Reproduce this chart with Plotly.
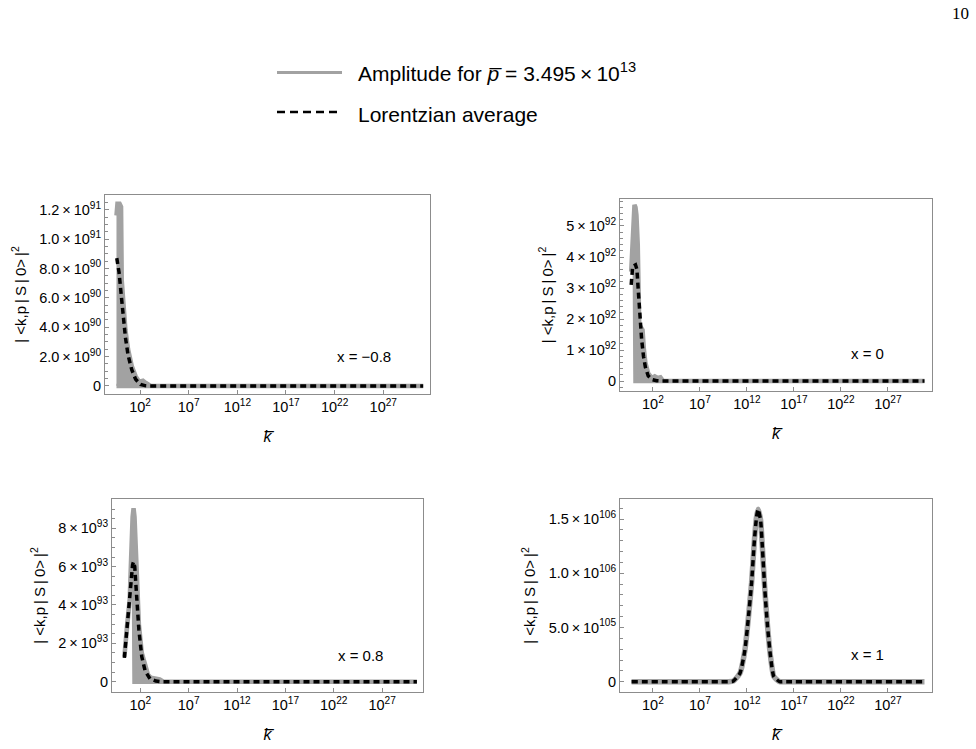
import plotly.graph_objects as go

# ---------------- data ----------------
panel_labels = ["x = \u22120.8", "x = 0", "x = 0.8", "x = 1"]

x_tick_vals = [1e2, 1e7, 1e12, 1e17, 1e22, 1e27]
x_tick_text = ["10<sup>2</sup>", "10<sup>7</sup>", "10<sup>12</sup>",
               "10<sup>17</sup>", "10<sup>22</sup>", "10<sup>27</sup>"]

# panel 1 : x = -0.8
lor1_logk = [-0.39, -0.15, 0.08, 0.30, 0.50, 0.77, 1.15, 1.55, 2.05, 2.5, 3.0, 31.1]
lor1_val = [8.7e90, 7.7e90, 6.1e90, 4.6e90, 3.3e90, 2.1e90, 1.1e90, 0.45e90, 0.1e90, 0.02e90, 0.0, 0.0]
amp1_logk = [-0.42, -0.32, -0.1, 0.05, 0.12, 0.3, 0.5, 0.77, 1.15, 1.55, 1.85, 2.05, 2.3, 2.6, 2.9, 3.1, 31.1]
amp1_hi = [11.6e90, 12.4e90, 12.4e90, 12.2e90, 7.2e90, 5.2e90, 3.8e90, 2.5e90, 1.35e90, 0.65e90,
           0.35e90, 0.3e90, 0.35e90, 0.2e90, 0.1e90, 0.0, 0.0]
amp1_lo = [0.0] * 17
y1_ticks = [0, 2e90, 4e90, 6e90, 8e90, 1e91, 1.2e91]
y1_text = ["0", "2.0\u2009×\u200910<sup>90</sup>", "4.0\u2009×\u200910<sup>90</sup>",
           "6.0\u2009×\u200910<sup>90</sup>", "8.0\u2009×\u200910<sup>90</sup>",
           "1.0\u2009×\u200910<sup>91</sup>", "1.2\u2009×\u200910<sup>91</sup>"]

# panel 2 : x = 0
lor2_logk = [-0.31, -0.15, 0.15, 0.3, 0.45, 0.6, 0.8, 1.0, 1.2, 1.5, 1.9, 2.4, 3.0, 30.9]
lor2_val = [3.1e92, 3.7e92, 3.75e92, 3.6e92, 2.9e92, 2.1e92, 1.35e92, 0.8e92, 0.45e92, 0.17e92,
            0.05e92, 0.01e92, 0.0, 0.0]
amp2_logk = [-0.31, -0.15, 0.04, 0.15, 0.25, 0.39, 0.46, 0.55, 0.7, 0.9, 1.05, 1.2, 1.5, 1.9,
             2.2, 2.5, 2.8, 3.1, 30.9]
amp2_hi = [3.53e92, 4.6e92, 5.68e92, 5.6e92, 5.35e92, 4.39e92, 3.6e92, 1.8e92, 1.75e92, 1.65e92,
           1.0e92, 0.6e92, 0.25e92, 0.1e92, 0.15e92, 0.1e92, 0.12e92, 0.0, 0.0]
amp2_lo = [3.53e92, 4.6e92, 5.68e92] + [0.0] * 16
y2_ticks = [0, 1e92, 2e92, 3e92, 4e92, 5e92]
y2_text = ["0", "1\u2009×\u200910<sup>92</sup>", "2\u2009×\u200910<sup>92</sup>",
           "3\u2009×\u200910<sup>92</sup>", "4\u2009×\u200910<sup>92</sup>",
           "5\u2009×\u200910<sup>92</sup>"]

# panel 3 : x = 0.8
lor3_logk = [0.35, 0.62, 0.95, 1.2, 1.3, 1.42, 1.6, 1.85, 2.15, 2.5, 3.0, 3.6, 4.2, 30.6]
lor3_val = [1.24e93, 2.8e93, 4.8e93, 6.1e93, 6.26e93, 6.0e93, 4.6e93, 2.7e93, 1.3e93, 0.55e93,
            0.15e93, 0.03e93, 0.0, 0.0]
amp3_logk = [0.35, 0.62, 0.9, 1.05, 1.2, 1.3, 1.4, 1.55, 1.7, 1.85, 2.15, 2.5, 2.8, 3.1, 3.5,
             4.0, 4.4, 30.6]
amp3_hi = [1.3e93, 2.9e93, 4.3e93, 6.5e93, 8.6e93, 9.05e93, 8.6e93, 6.5e93, 4.6e93, 3.0e93,
           1.5e93, 0.8e93, 0.35e93, 0.2e93, 0.15e93, 0.12e93, 0.0, 0.0]
amp3_lo = [1.3e93, 2.9e93, 4.3e93, 6.5e93, 8.6e93, 9.05e93] + [0.0] * 12
y3_ticks = [0, 2e93, 4e93, 6e93, 8e93]
y3_text = ["0", "2\u2009×\u200910<sup>93</sup>", "4\u2009×\u200910<sup>93</sup>",
           "6\u2009×\u200910<sup>93</sup>", "8\u2009×\u200910<sup>93</sup>"]

# panel 4 : x = 1  (amplitude and average coincide)
lor4_logk = [-0.27, 9.0, 9.6, 10.0, 10.54, 11.26, 11.79, 12.14, 12.5, 12.78, 13.03, 13.2, 13.46,
             13.67, 13.91, 14.2, 14.52, 14.87, 15.5, 16.0, 16.5, 30.9]
lor4_val = [0.0, 0.0, 0.0, 0.0, 0.005e106, 0.077e106, 0.29e106, 0.57e106, 0.91e106, 1.28e106,
            1.52e106, 1.59e106, 1.49e106, 1.21e106, 0.85e106, 0.51e106, 0.23e106, 0.046e106,
            0.0, 0.0, 0.0, 0.0]
amp4_logk = lor4_logk
amp4_hi = lor4_val
amp4_lo = lor4_val
y4_ticks = [0, 5e105, 1e106, 1.5e106]
y4_text = ["0", "5.0\u2009×\u200910<sup>105</sup>", "1.0\u2009×\u200910<sup>106</sup>",
           "1.5\u2009×\u200910<sup>106</sup>"]

# ---------------- styling / layout ----------------
GRAY = "#a2a2a2"
FRAME = "#8c8c8c"
FONT = "Liberation Sans"
W, H = 976, 749
TS = "\u2009"
Y_TITLE = ("|&#160;&lt;k,p" + TS + "|" + TS + "S" + TS + "|" + TS + "0&gt;" + TS + "|<sup>2</sup>")

panels = [
    dict(lk=lor1_logk, lv=lor1_val, ak=amp1_logk, ahi=amp1_hi, alo=amp1_lo, yt=y1_ticks, ytt=y1_text,
         yr=[-0.055e91, 1.30e91], ydt=0.5e90, xr=[-1.6, 31.8], box=(105, 430, 195, 394), lab=(364, 357)),
    dict(lk=lor2_logk, lv=lor2_val, ak=amp2_logk, ahi=amp2_hi, alo=amp2_lo, yt=y2_ticks, ytt=y2_text,
         yr=[-0.32e92, 5.87e92], ydt=0.2e92, xr=[-1.5, 31.7], box=(620, 932, 199, 391), lab=(867, 353)),
    dict(lk=lor3_logk, lv=lor3_val, ak=amp3_logk, ahi=amp3_hi, alo=amp3_lo, yt=y3_ticks, ytt=y3_text,
         yr=[-0.54e93, 9.53e93], ydt=0.5e93, xr=[-0.93, 31.23], box=(112, 423, 499, 692), lab=(360, 655)),
    dict(lk=lor4_logk, lv=lor4_val, ak=amp4_logk, ahi=amp4_hi, alo=amp4_lo, yt=y4_ticks, ytt=y4_text,
         yr=[-0.095e106, 1.685e106], ydt=1e105, xr=[-1.5, 31.7], box=(620, 932, 499, 692), lab=(867, 654)),
]

fig = go.Figure()
annotations = []
for i, p in enumerate(panels):
    n = "" if i == 0 else str(i + 1)
    xa, ya = "x" + n, "y" + n
    gx = [10 ** v for v in p["ak"]]
    if i < 3:
        fig.add_trace(go.Scatter(
            x=gx + gx[::-1], y=list(p["ahi"]) + list(p["alo"])[::-1], mode="lines", fill="toself",
            fillcolor=GRAY, line=dict(color=GRAY, width=4.5), xaxis=xa, yaxis=ya,
            showlegend=False, hoverinfo="skip"))
        lshape = "linear"
    else:
        fig.add_trace(go.Scatter(
            x=gx, y=p["ahi"], mode="lines", line=dict(color=GRAY, width=5.5, shape="spline", smoothing=0.5),
            xaxis=xa, yaxis=ya, showlegend=False, hoverinfo="skip"))
        lshape = "spline"
    fig.add_trace(go.Scatter(
        x=[10 ** v for v in p["lk"]], y=p["lv"], mode="lines",
        line=dict(color="black", width=3.5, dash="6px,4px", shape=lshape, smoothing=0.5),
        xaxis=xa, yaxis=ya, showlegend=False, hoverinfo="skip"))

    x0, x1, y0, y1 = p["box"]
    common = dict(showline=True, linecolor=FRAME, linewidth=1, mirror=True, ticks="inside",
                  tickcolor=FRAME, ticklen=4, showgrid=False, zeroline=False,
                  tickfont=dict(family=FONT, size=14.5, color="black"))
    fig.layout["xaxis" + n] = dict(
        common, type="log", range=p["xr"], domain=[x0 / W, x1 / W], anchor=ya,
        tickmode="array", tickvals=x_tick_vals, ticktext=x_tick_text,
        title=dict(text="<i>k\u0305</i>", font=dict(family=FONT, size=16, color="black"), standoff=16))
    fig.layout["yaxis" + n] = dict(
        common, range=p["yr"], domain=[1 - y1 / H, 1 - y0 / H], anchor=xa,
        tickmode="array", tickvals=p["yt"], ticktext=p["ytt"],
        minor=dict(dtick=p["ydt"], ticks="inside", ticklen=2.5, tickcolor=FRAME, showgrid=False),
        title=dict(text=Y_TITLE, font=dict(family=FONT, size=15, color="black"), standoff=9))
    annotations.append(dict(x=p["lab"][0] / W, y=1 - p["lab"][1] / H, xref="paper", yref="paper",
                            text=panel_labels[i], showarrow=False, xanchor="center", yanchor="middle",
                            font=dict(family=FONT, size=15, color="black")))

# legend (drawn manually to match the long legend samples)
shapes = [
    dict(type="line", xref="paper", yref="paper", x0=277 / W, x1=342 / W, y0=1 - 72.5 / H, y1=1 - 72.5 / H,
         line=dict(color=GRAY, width=3)),
    dict(type="line", xref="paper", yref="paper", x0=277 / W, x1=342 / W, y0=1 - 112 / H, y1=1 - 112 / H,
         line=dict(color="black", width=2.5, dash="8px,5px")),
]
annotations += [
    dict(x=356 / W, y=1 - 72 / H, xref="paper", yref="paper", xanchor="left", yanchor="middle",
         text="Amplitude for <i>p\u0305</i> = 3.495\u2009×\u200910<sup>13</sup>", showarrow=False,
         font=dict(family=FONT, size=21, color="black")),
    dict(x=356 / W, y=1 - 114 / H, xref="paper", yref="paper", xanchor="left", yanchor="middle",
         text="Lorentzian average", showarrow=False, font=dict(family=FONT, size=21, color="black")),
    dict(x=960 / W, y=1 - 13.5 / H, xref="paper", yref="paper", xanchor="center", yanchor="middle",
         text="10", showarrow=False, font=dict(family="Liberation Serif", size=17, color="black")),
]

fig.update_layout(width=W, height=H, margin=dict(l=0, r=0, t=0, b=0), paper_bgcolor="white",
                  plot_bgcolor="white", shapes=shapes, annotations=annotations, showlegend=False)
fig.write_html("out.html")
